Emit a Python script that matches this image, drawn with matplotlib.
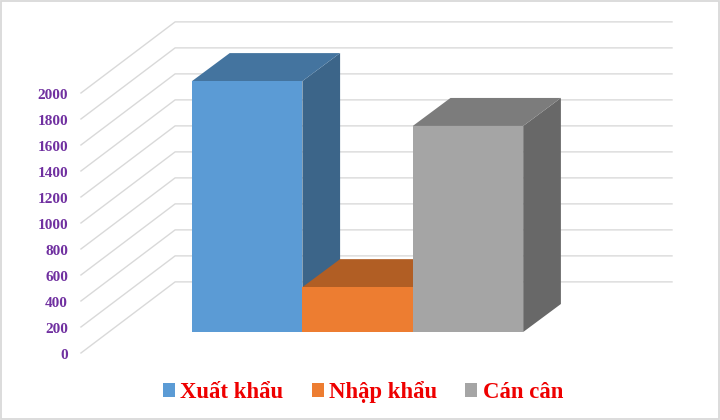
import matplotlib
from matplotlib import pyplot as plt
from matplotlib.patches import Patch, Polygon, Rectangle

matplotlib.use("Agg")

# Data
CATEGORIES = ["Xuất khẩu", "Nhập khẩu", "Cán cân"]
VALUES = [1930, 345, 1585]
TICKS = [0, 200, 400, 600, 800, 1000, 1200, 1400, 1600, 1800, 2000]

# Colours: front, top, side
FRONT = ["#5b9bd5", "#ed7d31", "#a5a5a5"]
TOP = ["#44749f", "#b15e24", "#7c7c7c"]
SIDE = ["#3c6589", "#3c6589", "#686868"]

GRID = "#d9d9d9"
TICK_COLOR = "#7030a0"

# Oblique projection, all in pixels of the 720x420 canvas
W, H = 720, 420
BAR_W = 110.4
BAR_X0 = 192
BASE_Y = 332
UNIT = 0.13
DX = 37.7
DY = 28
WALL_DX = 37.07
FLOOR_FRONT = -0.75
BACK_WALL = 1.79
GRID_END = (672 - BAR_X0) / BAR_W
WALL_LEFT = -0.754


def project(x, v, d, dx=DX):
    # x in bar widths, v in chart units, d in bar depths
    return x + d * dx / BAR_W, v + d * DY / UNIT


def draw_grid(ax):
    for t in TICKS:
        a = project(WALL_LEFT, t, FLOOR_FRONT, WALL_DX)
        b = project(WALL_LEFT, t, BACK_WALL, WALL_DX)
        c = (GRID_END, b[1])
        ax.plot([a[0], b[0], c[0]], [a[1], b[1], c[1]], color=GRID, lw=1.0, zorder=1)
        ax.annotate(str(t), a, xytext=(-13 * 0.72, -2.2 * 0.72), textcoords="offset points",
                    color=TICK_COLOR, fontsize=11, fontweight="bold",
                    family="Liberation Serif", ha="right", va="center")


def draw_bar(ax, i, value):
    x0, x1 = i, i + 1
    # Left to right, so the next bar covers the side of the previous one
    top = [project(x0, value, 0), project(x1, value, 0), project(x1, value, 1), project(x0, value, 1)]
    side = [project(x1, 0, 0), project(x1, value, 0), project(x1, value, 1), project(x1, 0, 1)]
    ax.add_patch(Polygon(side, facecolor=SIDE[i], edgecolor="none", zorder=2 + i))
    ax.add_patch(Polygon(top, facecolor=TOP[i], edgecolor="none", zorder=2 + i))
    ax.add_patch(Rectangle((x0, 0), 1, value, facecolor=FRONT[i], edgecolor="none", zorder=2 + i))


if __name__ == '__main__':
    fig = plt.figure(figsize=(W / 100, H / 100), dpi=100)
    ax = fig.add_axes([0, 0, 1, 1])
    ax.set_xlim(-BAR_X0 / BAR_W, (W - BAR_X0) / BAR_W)
    ax.set_ylim((BASE_Y - H) / UNIT, BASE_Y / UNIT)
    ax.axis("off")

    draw_grid(ax)
    for i, value in enumerate(VALUES):
        draw_bar(ax, i, value)

    # Outer frame
    fig.add_artist(Rectangle((0.8 / W, 1 / H), 717.7 / W, 418 / H, transform=fig.transFigure,
                             fill=False, edgecolor=GRID, lw=1.3))

    handles = [Patch(facecolor=c, edgecolor="none") for c in FRONT]
    fig.legend(handles, CATEGORIES, ncol=3, frameon=False, loc="center",
               bbox_to_anchor=(363 / W, 1 - 392 / H),
               prop={"family": "Liberation Serif", "weight": "bold", "size": 16.4},
               labelcolor="#ee0000", handlelength=0.53, handleheight=0.53,
               handletextpad=0.24, columnspacing=1.23)

    fig.savefig("out.png", dpi=100)
